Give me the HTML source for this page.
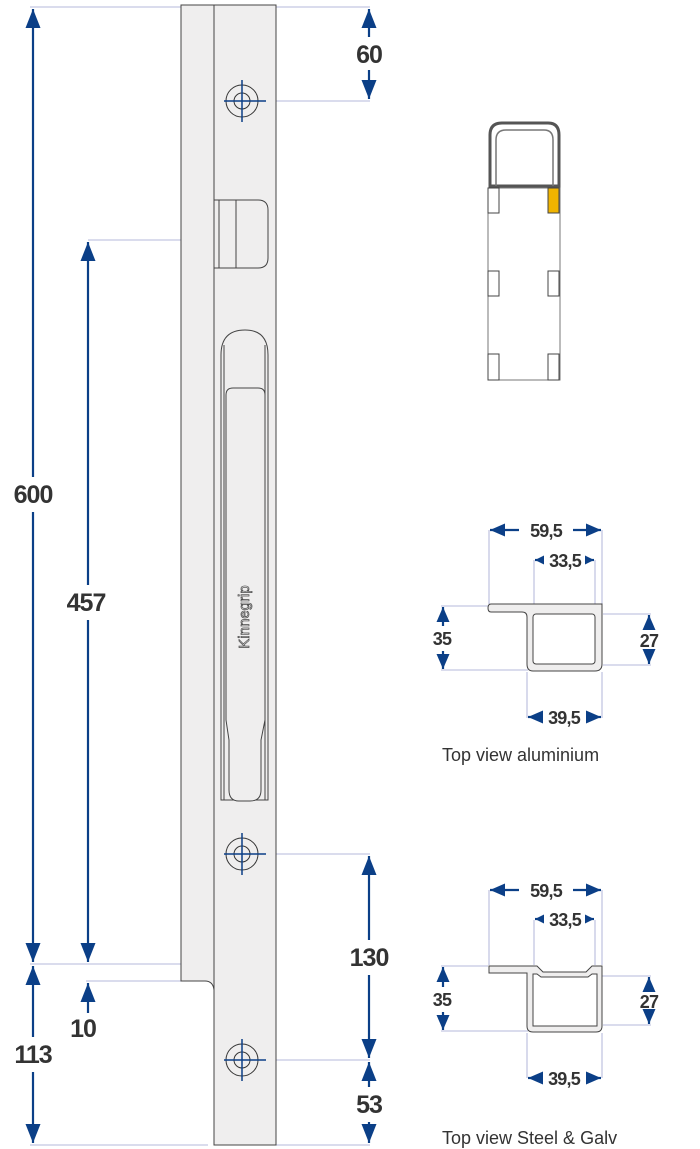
<!DOCTYPE html>
<html><head><meta charset="utf-8"><style>
html,body{margin:0;padding:0;background:#fff;}
svg{display:block;font-family:"Liberation Sans",Arial,sans-serif;}
.dl{stroke:#c3c6e2;stroke-width:1.3;fill:none}
.ar{stroke:#0b3f87;stroke-width:2.2;fill:none}
.ol{stroke:#444;stroke-width:1;fill:#efeeee}
.big{font-size:25px;font-weight:bold;fill:#333;text-anchor:middle;letter-spacing:-1px}
.sm{font-size:18px;font-weight:bold;fill:#333;text-anchor:middle;letter-spacing:-0.8px}
.cap{font-size:18px;fill:#333}
</style></head><body>
<svg width="700" height="1149" viewBox="0 0 700 1149">
<defs>
<marker id="b" viewBox="0 0 10 10" refX="10" refY="5" markerWidth="19" markerHeight="15" orient="auto-start-reverse" markerUnits="userSpaceOnUse" preserveAspectRatio="none">
<path d="M0,0 L10,5 L0,10 z" fill="#0b3f87"/></marker>
<marker id="d" viewBox="0 0 10 10" refX="10" refY="5" markerWidth="15" markerHeight="13" orient="auto-start-reverse" markerUnits="userSpaceOnUse" preserveAspectRatio="none">
<path d="M0,0 L10,5 L0,10 z" fill="#0b3f87"/></marker>
<marker id="c" viewBox="0 0 10 10" refX="10" refY="5" markerWidth="9" markerHeight="9" orient="auto-start-reverse" markerUnits="userSpaceOnUse" preserveAspectRatio="none">
<path d="M0,0 L10,5 L0,10 z" fill="#0b3f87"/></marker>
</defs>

<line class="dl" x1="30" y1="7" x2="186" y2="7"/>
<line class="dl" x1="88" y1="240" x2="181" y2="240"/>
<line class="dl" x1="30" y1="964" x2="181" y2="964"/>
<line class="dl" x1="86" y1="981" x2="181" y2="981"/>
<line class="dl" x1="30" y1="1145" x2="208" y2="1145"/>
<line class="dl" x1="276" y1="7" x2="370" y2="7"/>
<line class="dl" x1="276" y1="101" x2="370" y2="101"/>
<line class="dl" x1="276" y1="854" x2="370" y2="854"/>
<line class="dl" x1="276" y1="1060" x2="370" y2="1060"/>
<line class="dl" x1="276" y1="1145" x2="370" y2="1145"/>

<path class="ol" d="M181,5 H214 V990 Q213,981 205,981 H181 Z"/>
<rect class="ol" x="214" y="5" width="62" height="1140"/>
<path class="ol" d="M214,200 H258 Q268,200 268,210 V258 Q268,268 258,268 H214 Z"/>
<line stroke="#444" stroke-width="1" x1="219" y1="200" x2="219" y2="268"/>
<line stroke="#444" stroke-width="1" x1="236" y1="200" x2="236" y2="268"/>
<path class="ol" d="M221,800 V355 Q221,330 245,330 Q268,330 268,355 V800 Z"/>
<line stroke="#444" stroke-width="1" x1="224" y1="345" x2="224" y2="800"/>
<line stroke="#444" stroke-width="1" x1="265" y1="345" x2="265" y2="800"/>
<path class="ol" d="M226,395 Q226,388 233,388 H258 Q265,388 265,395 V720 L261,740 V790 Q261,801 250,801 H239 Q229,801 229,790 V740 L226,720 Z"/>
<text x="0" y="0" transform="translate(249,617) rotate(-90)" style="font-size:15px;fill:#efeeee;stroke:#444;stroke-width:0.7;text-anchor:middle">Kinnegrip</text>
<g fill="none" stroke="#333" stroke-width="1">
<circle cx="242" cy="101" r="16"/><circle cx="242" cy="101" r="8"/>
<circle cx="242" cy="854" r="16"/><circle cx="242" cy="854" r="8"/>
<circle cx="242" cy="1060" r="16"/><circle cx="242" cy="1060" r="8"/>
</g>
<g stroke="#0b3f87" stroke-width="1.5">
<line x1="224" y1="101" x2="266" y2="101"/><line x1="242" y1="80" x2="242" y2="122"/>
<line x1="224" y1="854" x2="266" y2="854"/><line x1="242" y1="833" x2="242" y2="875"/>
<line x1="224" y1="1060" x2="266" y2="1060"/><line x1="242" y1="1039" x2="242" y2="1081"/>
</g>

<line class="ar" x1="33" y1="9" x2="33" y2="477" marker-start="url(#b)"/>
<line class="ar" x1="33" y1="512" x2="33" y2="962" marker-end="url(#b)"/>
<text class="big" x="33" y="503">600</text>
<line class="ar" x1="88" y1="242" x2="88" y2="585" marker-start="url(#b)"/>
<line class="ar" x1="88" y1="620" x2="88" y2="962" marker-end="url(#b)"/>
<text class="big" x="86" y="611">457</text>
<line class="ar" x1="88" y1="1013" x2="88" y2="983" marker-end="url(#b)"/>
<text class="big" x="83" y="1037">10</text>
<line class="ar" x1="33" y1="966" x2="33" y2="1037" marker-start="url(#b)"/>
<line class="ar" x1="33" y1="1072" x2="33" y2="1143" marker-end="url(#b)"/>
<text class="big" x="33" y="1063">113</text>

<line class="ar" x1="369" y1="9" x2="369" y2="37" marker-start="url(#b)"/>
<line class="ar" x1="369" y1="70" x2="369" y2="99" marker-end="url(#b)"/>
<text class="big" x="369" y="63">60</text>
<line class="ar" x1="369" y1="856" x2="369" y2="940" marker-start="url(#b)"/>
<line class="ar" x1="369" y1="975" x2="369" y2="1058" marker-end="url(#b)"/>
<text class="big" x="369" y="966">130</text>
<line class="ar" x1="369" y1="1062" x2="369" y2="1087" marker-start="url(#b)"/>
<line class="ar" x1="369" y1="1122" x2="369" y2="1143" marker-end="url(#b)"/>
<text class="big" x="369" y="1113">53</text>

<path d="M490,186 V135 Q490,123 502,123 H548 Q559,123 559,135 V186 Z" fill="#fff" stroke="#555" stroke-width="3"/>
<path d="M496,186 V140 Q496,130 506,130 H544 Q553,130 553,140 V186" fill="none" stroke="#777" stroke-width="1.5"/>
<rect x="488" y="188" width="72" height="192" fill="#fff" stroke="#777" stroke-width="1"/>
<rect x="488" y="188" width="11" height="25" fill="#fff" stroke="#444"/>
<rect x="548" y="188" width="11" height="25" fill="#f0b400" stroke="#444"/>
<rect x="488" y="271" width="11" height="25" fill="#fff" stroke="#444"/>
<rect x="548" y="271" width="11" height="25" fill="#fff" stroke="#444"/>
<rect x="488" y="354" width="11" height="26" fill="#fff" stroke="#444"/>
<rect x="548" y="354" width="11" height="26" fill="#fff" stroke="#444"/>

<g>
<line class="dl" x1="489" y1="530" x2="489" y2="604"/>
<line class="dl" x1="602" y1="530" x2="602" y2="604"/>
<line class="dl" x1="534" y1="560" x2="534" y2="604"/>
<line class="dl" x1="595" y1="560" x2="595" y2="604"/>
<line class="dl" x1="441" y1="606" x2="488" y2="606"/>
<line class="dl" x1="441" y1="670" x2="528" y2="670"/>
<line class="dl" x1="603" y1="614" x2="651" y2="614"/>
<line class="dl" x1="603" y1="665" x2="651" y2="665"/>
<line class="dl" x1="527" y1="672" x2="527" y2="718"/>
<line class="dl" x1="602" y1="672" x2="602" y2="718"/>
<path d="M491,604 H602 V664 Q602,671 595,671 H533 Q527,671 527,664 V617 Q527,612 522,612 H491 Q488,612 488,608 Q488,604 491,604 Z" fill="#efeeee" stroke="#444" stroke-width="1"/>
<rect x="533" y="614" width="62" height="50" rx="3" fill="#fff" stroke="#444" stroke-width="1"/>
<line class="ar" x1="490" y1="530" x2="519" y2="530" marker-start="url(#d)"/>
<line class="ar" x1="573" y1="530" x2="601" y2="530" marker-end="url(#d)"/>
<text class="sm" x="546" y="537">59,5</text>
<line class="ar" x1="535" y1="560" x2="543" y2="560" marker-start="url(#c)"/>
<line class="ar" x1="587" y1="560" x2="594" y2="560" marker-end="url(#c)"/>
<text class="sm" x="565" y="567">33,5</text>
<line class="ar" x1="443" y1="607" x2="443" y2="626" marker-start="url(#d)"/>
<line class="ar" x1="443" y1="651" x2="443" y2="669" marker-end="url(#d)"/>
<text class="sm" x="442" y="645">35</text>
<line class="ar" x1="649" y1="615" x2="649" y2="629" marker-start="url(#d)"/>
<line class="ar" x1="649" y1="651" x2="649" y2="664" marker-end="url(#d)"/>
<text class="sm" x="649" y="647">27</text>
<line class="ar" x1="528" y1="717" x2="543" y2="717" marker-start="url(#d)"/>
<line class="ar" x1="586" y1="717" x2="601" y2="717" marker-end="url(#d)"/>
<text class="sm" x="564" y="724">39,5</text>
<text class="cap" x="442" y="761">Top view aluminium</text>
</g>

<g>
<line class="dl" x1="489" y1="890" x2="489" y2="965"/>
<line class="dl" x1="602" y1="890" x2="602" y2="965"/>
<line class="dl" x1="534" y1="920" x2="534" y2="965"/>
<line class="dl" x1="595" y1="920" x2="595" y2="965"/>
<line class="dl" x1="441" y1="966" x2="488" y2="966"/>
<line class="dl" x1="441" y1="1031" x2="528" y2="1031"/>
<line class="dl" x1="585" y1="976" x2="651" y2="976"/>
<line class="dl" x1="603" y1="1025" x2="651" y2="1025"/>
<line class="dl" x1="527" y1="1033" x2="527" y2="1078"/>
<line class="dl" x1="602" y1="1033" x2="602" y2="1078"/>
<path d="M489,966 H537 L543,972 H586 L592,966 H602 V1026 Q602,1032 596,1032 H533 Q527,1032 527,1026 V973 H489 Z" fill="#efeeee" stroke="#444" stroke-width="1"/>
<path d="M533,974 H537 L541,977 H588 L592,974 H597 V1026 H533 Z" fill="#fff" stroke="#444" stroke-width="1"/>
<line class="ar" x1="490" y1="890" x2="519" y2="890" marker-start="url(#d)"/>
<line class="ar" x1="573" y1="890" x2="601" y2="890" marker-end="url(#d)"/>
<text class="sm" x="546" y="897">59,5</text>
<line class="ar" x1="535" y1="919" x2="543" y2="919" marker-start="url(#c)"/>
<line class="ar" x1="587" y1="919" x2="594" y2="919" marker-end="url(#c)"/>
<text class="sm" x="565" y="926">33,5</text>
<line class="ar" x1="443" y1="967" x2="443" y2="987" marker-start="url(#d)"/>
<line class="ar" x1="443" y1="1012" x2="443" y2="1030" marker-end="url(#d)"/>
<text class="sm" x="442" y="1006">35</text>
<line class="ar" x1="649" y1="977" x2="649" y2="990" marker-start="url(#d)"/>
<line class="ar" x1="649" y1="1013" x2="649" y2="1024" marker-end="url(#d)"/>
<text class="sm" x="649" y="1008">27</text>
<line class="ar" x1="528" y1="1078" x2="543" y2="1078" marker-start="url(#d)"/>
<line class="ar" x1="586" y1="1078" x2="601" y2="1078" marker-end="url(#d)"/>
<text class="sm" x="564" y="1085">39,5</text>
<text class="cap" x="442" y="1144">Top view Steel &amp; Galv</text>
</g>
</svg>
</body></html>
